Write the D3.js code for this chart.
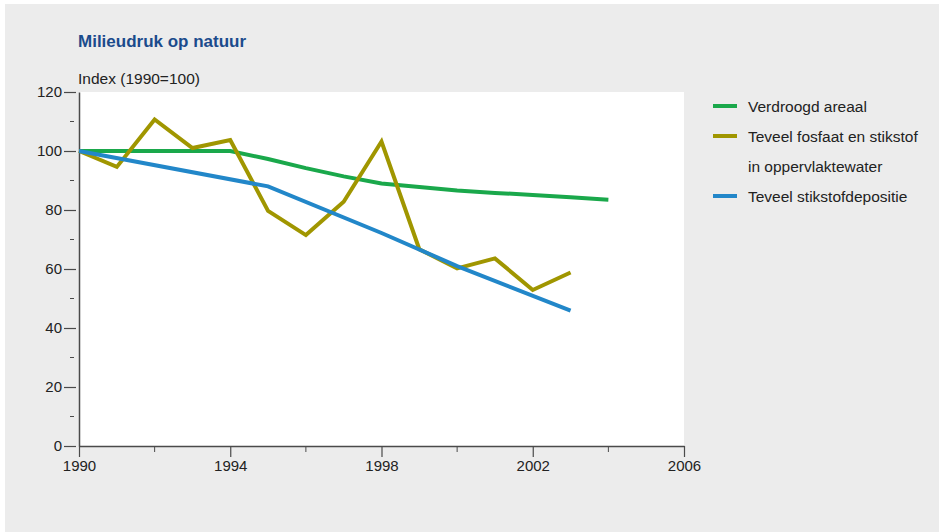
<!DOCTYPE html>
<meta charset="utf-8">
<style>
body { margin: 0; background: #fff; }
svg { display: block; }
.axis path, .axis line { stroke: #4a4a4a; }
.axis text { font: 15px "Liberation Sans", Arial, sans-serif; fill: #222; }
</style>
<body>
<svg width="939" height="532"></svg>
<script src="https://cdn.jsdelivr.net/npm/d3@7"></script>
<script>

// data
var years = [1990, 1991, 1992, 1993, 1994, 1995, 1996, 1997, 1998, 1999, 2000, 2001, 2002, 2003, 2004];
var verdroogd = [100, 100, 100, 100, 100, 97.3, 94.2, 91.4, 89, 87.8, 86.6, 85.8, 85.1, 84.3, 83.5];
var fosfaatYears = [1990, 1991, 1992, 1993, 1994, 1995, 1996, 1997, 1998, 1999, 2000, 2001, 2002, 2003];
var fosfaat = [100, 94.6, 110.7, 101, 103.7, 79.7, 71.5, 82.8, 103.2, 66.7, 60.2, 63.6, 52.9, 58.8];
var depositieYears = [1990, 1995, 1998, 2000, 2003];
var depositie = [100, 88, 72.2, 61, 45.9];

var yTicks = [0, 20, 40, 60, 80, 100, 120];
var yMinor = [10, 30, 50, 70, 90, 110];
var xTicks = [1990, 1994, 1998, 2002, 2006];
var xMinor = [1992, 1996, 2000, 2004];

var series = [
  {name: ["Verdroogd areaal"], color: "#1aa84b", x: years, y: verdroogd},
  {name: ["Teveel fosfaat en stikstof", "in oppervlaktewater"], color: "#a09600", x: fosfaatYears, y: fosfaat},
  {name: ["Teveel stikstofdepositie"], color: "#2287c9", x: depositieYears, y: depositie}
];

var textFont = "15.5px 'Liberation Sans', Arial, sans-serif";

var svg = d3.select("svg");

// grey panel
svg.append("rect")
    .attr("x", 5).attr("y", 4)
    .attr("width", 934).attr("height", 528)
    .attr("fill", "#ececec");

var plotLeft = 79, plotRight = 684, plotTop = 92, plotBottom = 446;

var x = d3.scaleLinear().domain([1990, 2006]).range([plotLeft, plotRight]);
var y = d3.scaleLinear().domain([0, 120]).range([plotBottom, plotTop]);

svg.append("rect")
    .attr("x", plotLeft).attr("y", plotTop)
    .attr("width", plotRight - plotLeft).attr("height", plotBottom - plotTop)
    .attr("fill", "#fff");

svg.append("text")
    .attr("x", 78).attr("y", 47)
    .attr("fill", "#1b4b8c")
    .style("font", "bold 17px 'Liberation Sans', Arial, sans-serif")
    .text("Milieudruk op natuur");

svg.append("text")
    .attr("x", 78).attr("y", 84)
    .attr("fill", "#222")
    .style("font", textFont)
    .text("Index (1990=100)");

// y axis
var yAxis = svg.append("g")
    .attr("class", "axis")
    .attr("transform", "translate(" + plotLeft + ",0)")
    .call(d3.axisLeft(y).tickValues(yTicks).tickSize(15).tickPadding(2).tickSizeOuter(0));
yAxis.select(".domain").attr("stroke-width", 1.5);
yAxis.selectAll(".tick line").attr("x1", -3).attr("stroke-width", 1.2);

yAxis.selectAll(".minor")
    .data(yMinor)
  .enter().append("line")
    .attr("class", "minor")
    .attr("x1", -9).attr("x2", -5)
    .attr("y1", function(d) { return y(d); })
    .attr("y2", function(d) { return y(d); })
    .attr("stroke", "#4a4a4a");

// x axis
var xAxis = svg.append("g")
    .attr("class", "axis")
    .attr("transform", "translate(0," + plotBottom + ")")
    .call(d3.axisBottom(x).tickValues(xTicks).tickFormat(d3.format("d")).tickSize(11).tickPadding(3).tickSizeOuter(0));
xAxis.select(".domain").attr("stroke-width", 1.5);
xAxis.selectAll(".tick line").attr("stroke-width", 1.2);

xAxis.selectAll(".minor")
    .data(xMinor)
  .enter().append("line")
    .attr("class", "minor")
    .attr("y1", 0).attr("y2", 6)
    .attr("x1", function(d) { return x(d); })
    .attr("x2", function(d) { return x(d); })
    .attr("stroke", "#4a4a4a");

// lines
var line = d3.line()
    .x(function(d) { return x(d[0]); })
    .y(function(d) { return y(d[1]); });

svg.selectAll(".series")
    .data(series)
  .enter().append("path")
    .attr("class", "series")
    .attr("fill", "none")
    .attr("stroke", function(d) { return d.color; })
    .attr("stroke-width", 4)
    .attr("stroke-linejoin", "miter")
    .attr("d", function(d) { return line(d3.zip(d.x, d.y)); });

// legend
var legendY = [106, 136, 196];
var legend = svg.selectAll(".legend")
    .data(series)
  .enter().append("g")
    .attr("class", "legend")
    .attr("transform", function(d, i) { return "translate(713," + legendY[i] + ")"; });

legend.append("line")
    .attr("x1", 0).attr("x2", 24)
    .attr("stroke", function(d) { return d.color; })
    .attr("stroke-width", 4);

legend.append("text")
    .style("font", textFont)
    .attr("fill", "#222")
    .selectAll("tspan")
    .data(function(d) { return d.name; })
  .enter().append("tspan")
    .attr("x", 35)
    .attr("y", function(d, i) { return 6 + i * 30; })
    .text(function(d) { return d; });

</script>
